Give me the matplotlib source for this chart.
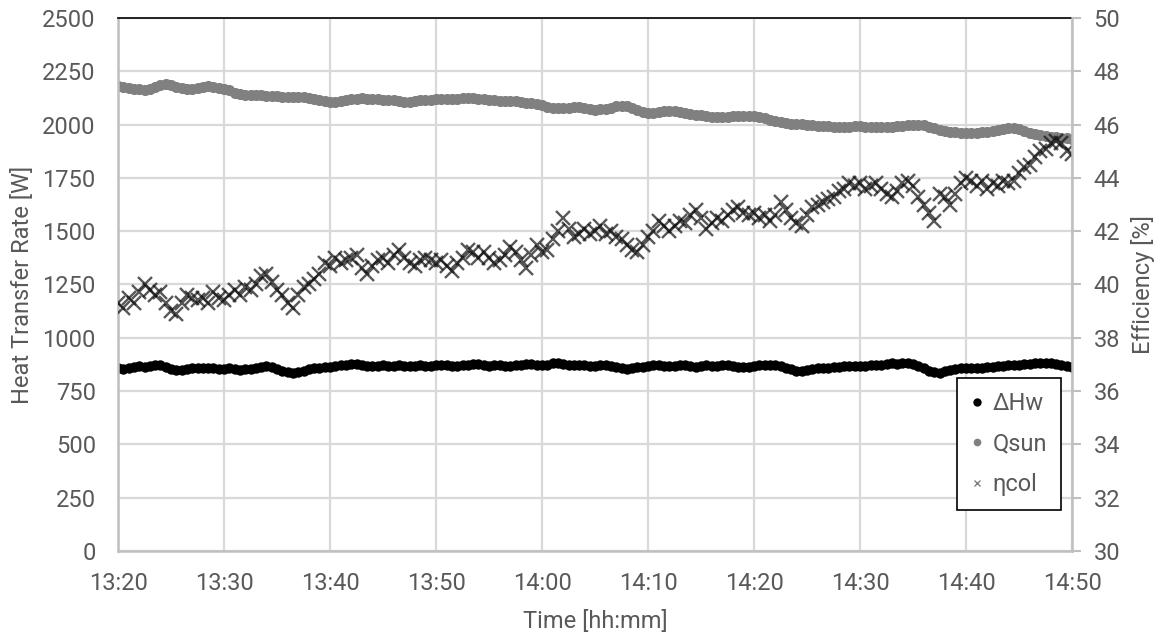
"""Collector test: heat transfer rates and efficiency over time."""

import matplotlib

matplotlib.use("Agg")
import matplotlib.dates as mdates
import matplotlib.pyplot as plt
import pandas as pd

START = "2020-01-01 13:20:00"
STEP = "30s"

# 30 s samples from 13:20 to 14:50
dhw = [
    856, 852, 858, 862, 866, 862, 868, 872, 870, 862,
    852, 847, 850, 853, 856, 858, 860, 859, 856, 854,
    855, 858, 854, 851, 852, 855, 860, 864, 867, 862,
    852, 845, 840, 836, 840, 846, 852, 856, 858, 862,
    864, 866, 870, 874, 878, 876, 872, 868, 866, 868,
    870, 866, 868, 870, 868, 866, 868, 870, 867, 869,
    872, 874, 870, 868, 866, 870, 874, 878, 875, 872,
    868, 870, 872, 868, 866, 870, 872, 876, 878, 874,
    870, 874, 880, 884, 878, 872, 870, 874, 872, 868,
    866, 870, 872, 868, 862, 856, 852, 858, 862, 864,
    866, 870, 872, 868, 866, 868, 872, 870, 866, 862,
    866, 870, 868, 866, 870, 872, 868, 864, 862, 864,
    866, 870, 872, 872, 870, 868, 860, 852, 845, 842,
    848, 852, 856, 858, 860, 862, 864, 866, 867, 868,
    866, 868, 870, 872, 874, 878, 880, 878, 882, 883,
    876, 866, 856, 845, 838, 836, 842, 848, 852, 856,
    858, 860, 859, 860, 862, 864, 866, 868, 870, 872,
    874, 876, 878, 880, 882, 883, 880, 876, 872, 866,
    862,
]
qsun = [
    2182, 2178, 2172, 2168, 2165, 2163, 2168, 2176, 2184, 2190,
    2186, 2176, 2170, 2165, 2166, 2170, 2175, 2180, 2178, 2172,
    2168, 2160, 2150, 2143, 2140, 2140, 2139, 2138, 2135, 2134,
    2133, 2131, 2130, 2130, 2128, 2127, 2124, 2120, 2115, 2110,
    2107, 2108, 2112, 2115, 2118, 2121, 2123, 2121, 2119, 2118,
    2117, 2116, 2114, 2110, 2108, 2107, 2110, 2113, 2115, 2117,
    2118, 2119, 2120, 2121, 2122, 2124, 2125, 2123, 2120, 2118,
    2116, 2114, 2112, 2111, 2110, 2109, 2106, 2103, 2101, 2097,
    2090, 2083, 2079, 2077, 2077, 2079, 2082, 2083, 2080, 2074,
    2070, 2071, 2075, 2080, 2085, 2089, 2086, 2078, 2068, 2060,
    2055, 2056, 2060, 2063, 2066, 2064, 2058, 2052, 2048, 2046,
    2043, 2040, 2037, 2035, 2034, 2036, 2039, 2041, 2042, 2041,
    2040, 2036, 2030, 2022, 2015, 2010, 2007, 2005, 2004, 2003,
    2000, 1997, 1995, 1993, 1992, 1990, 1989, 1989, 1990, 1991,
    1991, 1990, 1989, 1988, 1988, 1989, 1990, 1992, 1995, 1998,
    2000, 2000, 1996, 1990, 1982, 1975, 1968, 1965, 1963, 1960,
    1959, 1960, 1962, 1965, 1967, 1970, 1974, 1978, 1982, 1985,
    1980, 1972, 1962, 1955, 1950, 1945, 1943, 1940, 1938, 1935,
    1932,
]
eta = [
    39.3, 39.1, 39.5, 39.3, 39.7, 40.0, 39.8, 39.6, 39.7, 39.3,
    39.0, 38.9, 39.3, 39.6, 39.5, 39.4, 39.5, 39.3, 39.7, 39.5,
    39.4, 39.6, 39.8, 39.6, 39.9, 39.8, 40.0, 40.3, 40.4, 40.1,
    39.8, 39.6, 39.3, 39.1, 39.6, 39.9, 40.0, 40.2, 40.4, 40.8,
    40.7, 41.0, 40.8, 40.9, 41.0, 41.1, 40.6, 40.4, 40.7, 40.9,
    41.0, 40.8, 41.1, 41.3, 41.0, 40.8, 40.7, 40.9, 41.0, 40.9,
    40.8, 40.9, 40.7, 40.5, 40.8, 41.0, 41.3, 41.2, 41.0, 41.2,
    41.0, 40.8, 40.9, 41.1, 41.4, 41.2, 40.9, 40.6, 41.1, 41.5,
    41.2, 41.3, 41.7, 42.0, 42.5, 42.1, 41.8, 41.9, 42.1, 41.9,
    42.0, 42.2, 41.9, 42.0, 41.8, 41.7, 41.5, 41.3, 41.2, 41.5,
    41.8, 42.0, 42.4, 42.2, 42.0, 42.2, 42.4, 42.3, 42.6, 42.8,
    42.5, 42.1, 42.3, 42.5, 42.4, 42.6, 42.8, 42.9, 42.7, 42.6,
    42.7, 42.5, 42.6, 42.4, 42.6, 43.1, 42.8, 42.5, 42.3, 42.2,
    42.6, 42.9, 43.0, 43.1, 43.2, 43.3, 43.5, 43.6, 43.8, 43.7,
    43.8, 43.6, 43.7, 43.8, 43.6, 43.4, 43.3, 43.5, 43.8, 43.9,
    43.7, 43.3, 43.0, 42.7, 42.4, 43.4, 43.3, 43.0, 43.4, 43.8,
    44.0, 43.9, 43.7, 43.9, 43.6, 43.8, 43.7, 43.9, 43.8, 43.9,
    44.2, 44.4, 44.5, 44.8, 45.0, 45.1, 45.3, 45.4, 45.3, 45.0,
    44.9,
]
left_ticks = [0, 250, 500, 750, 1000, 1250, 1500, 1750, 2000, 2250, 2500]
right_ticks = [30, 32, 34, 36, 38, 40, 42, 44, 46, 48, 50]

TEXT = "#595959"
GRID = "#d9d9d9"
AXIS = "#bfbfbf"
FS = 17

plt.rcParams["font.family"] = ["Roboto", "DejaVu Sans"]
plt.rcParams["font.size"] = FS

time = pd.date_range(START, periods=len(qsun), freq=STEP)

fig = plt.figure(figsize=(11.64, 6.35), dpi=100)
ax = fig.add_axes([0.1014, 0.1323, 0.8196, 0.8394])
ax2 = ax.twinx()

h_q, = ax.plot(time, qsun, "o", color="#808080", markersize=8, markeredgewidth=0, label="Qsun")
h_d, = ax.plot(time, dhw, "o", color="black", markersize=7.5, markeredgewidth=0, label="ΔHw")
h_e, = ax2.plot(time, eta, "x", color="#111111", alpha=0.7, markersize=9.5, markeredgewidth=1.7,
                label="ηcol")

ax.set_xlim(pd.Timestamp("2020-01-01 13:20"), pd.Timestamp("2020-01-01 14:50"))
ax.set_ylim(0, 2500)
ax.set_yticks(left_ticks)
ax2.set_ylim(30, 50)
ax2.set_yticks(right_ticks)
ax.xaxis.set_major_locator(mdates.MinuteLocator(byminute=range(0, 60, 10)))
ax.xaxis.set_major_formatter(mdates.DateFormatter("%H:%M"))

ax.grid(True, color=GRID, linewidth=1.6)
ax.set_axisbelow(True)
ax.tick_params(axis="y", length=0, colors=TEXT, labelsize=FS, pad=16)
ax.tick_params(axis="x", length=0, colors=TEXT, labelsize=FS, pad=15)
ax2.tick_params(axis="y", length=6.5, width=1.5, colors=TEXT, labelsize=FS, pad=9)
ax2.tick_params(axis="y", color=AXIS)

for side in ["left", "bottom"]:
    ax.spines[side].set_color(AXIS)
    ax.spines[side].set_linewidth(1.8)
ax.spines["top"].set_color("black")
ax.spines["top"].set_linewidth(1.2)
ax.spines["right"].set_visible(False)
for side in ["left", "bottom", "top"]:
    ax2.spines[side].set_visible(False)
ax2.spines["right"].set_color(AXIS)
ax2.spines["right"].set_linewidth(1.8)

ax.set_xlabel("Time [hh:mm]", color=TEXT, fontsize=FS, labelpad=11)
ax.set_ylabel("Heat Transfer Rate [W]", color=TEXT, fontsize=FS, labelpad=6)
ax2.set_ylabel("Efficiency [%]", color=TEXT, fontsize=FS, labelpad=8)

leg = ax2.legend(
    [h_d, h_q, h_e], ["ΔHw", "Qsun", "ηcol"],
    loc="lower right", bbox_to_anchor=(0.9885, 0.076), frameon=True, fancybox=False,
    edgecolor="black", framealpha=1, handlelength=0.5, handletextpad=0.4,
    labelspacing=0.75, borderpad=0.6, fontsize=FS, borderaxespad=0,
)
leg.get_frame().set_linewidth(1.2)
for text in leg.get_texts():
    text.set_color(TEXT)
for handle, size in zip(leg.legend_handles, [6, 5.5, 5]):
    handle.set_alpha(1)
    handle.set_markersize(size)
leg.legend_handles[2].set_color("#808080")
leg.legend_handles[2].set_markeredgewidth(1)

fig.savefig("out.png", dpi=100)
